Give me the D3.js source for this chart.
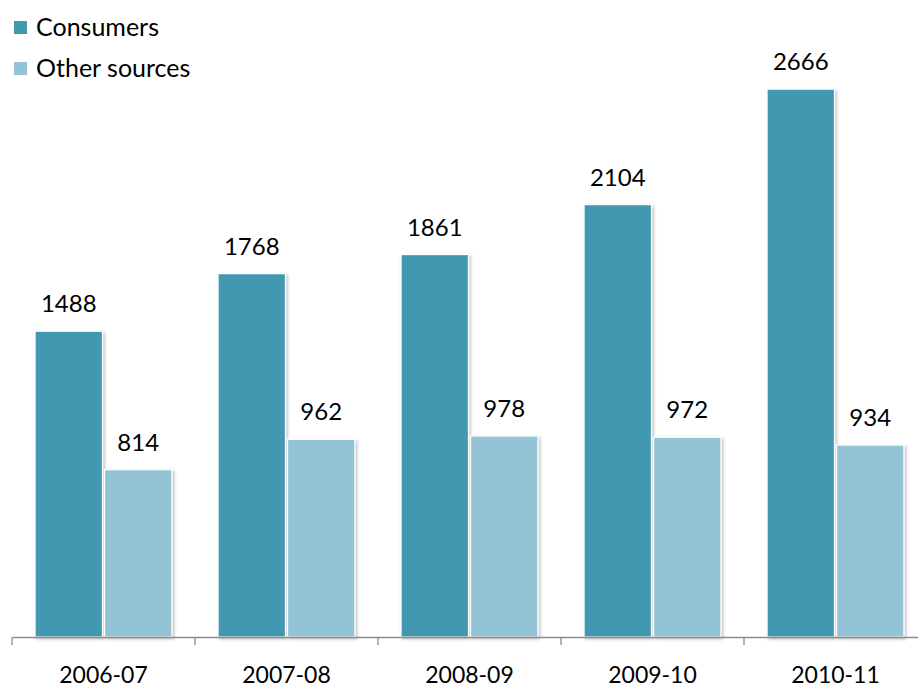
<!DOCTYPE html>
<html>
<head>
<meta charset="utf-8">
<script src="https://cdn.jsdelivr.net/npm/d3@7"></script>
<style>
  html, body { margin: 0; padding: 0; background: #fff; }
  svg { display: block; }
  text { font-family: Lato, "Open Sans", sans-serif; fill: #000; }
</style>
</head>
<body>
<svg id="chart" width="918" height="689"></svg>
<script>
// Complaints received, by source and year
const years = ["2006-07", "2007-08", "2008-09", "2009-10", "2010-11"];
const consumers = [1488, 1768, 1861, 2104, 2666];
const otherSources = [814, 962, 978, 972, 934];
const seriesNames = ["Consumers", "Other sources"];
const seriesColors = ["#4398b0", "#93c4d6"];

const svg = d3.select("#chart");
const plot = { left: 12, right: 927, top: 20, bottom: 637 };

const defs = svg.append("defs");
const shadow = defs.append("filter").attr("id", "barShadow")
  .attr("x", "-10%").attr("y", "-5%").attr("width", "130%").attr("height", "115%");
shadow.append("feDropShadow").attr("dx", 1.5).attr("dy", 1.5)
  .attr("stdDeviation", 1.6).attr("flood-color", "#000").attr("flood-opacity", 0.28);

const x0 = d3.scaleBand().domain(years).range([plot.left, plot.right]).paddingInner(0).paddingOuter(0);
const bw = x0.bandwidth();
const x1 = d3.scaleBand().domain(seriesNames).range([bw * 0.126, bw * 0.874]).paddingInner(0.03).paddingOuter(0);
const y = d3.scaleLinear().domain([0, 3000]).range([plot.bottom, plot.bottom - 616.5]);

const rows = years.map((yr, i) => ({ year: yr, values: [consumers[i], otherSources[i]] }));

const groups = svg.append("g").selectAll("g").data(rows).join("g")
  .attr("transform", d => `translate(${x0(d.year)},0)`);

groups.selectAll("rect").data(d => d.values.map((v, k) => ({ name: seriesNames[k], v, k })))
  .join("rect")
  .attr("x", d => x1(d.name))
  .attr("y", d => y(d.v))
  .attr("width", x1.bandwidth())
  .attr("height", d => y(0) - y(d.v))
  .attr("fill", d => seriesColors[d.k])
  .attr("stroke", "#fff")
  .attr("stroke-width", 1.2)
  .attr("filter", "url(#barShadow)");

groups.selectAll("text.val").data(d => d.values.map((v, k) => ({ name: seriesNames[k], v, k })))
  .join("text").attr("class", "val")
  .attr("x", d => x1(d.name) + x1.bandwidth() / 2)
  .attr("y", d => y(d.v) - 19)
  .attr("text-anchor", "middle")
  .attr("font-size", 24)
  .text(d => d.v);

// Category axis
const axis = d3.axisBottom(x0).tickSize(0).tickFormat(d => d);
const axisG = svg.append("g").attr("transform", `translate(0,${plot.bottom})`).call(axis);
axisG.select(".domain").attr("stroke", "#8c8c8c").attr("stroke-width", 1.3);
axisG.selectAll(".tick text").attr("font-size", 23).attr("dy", 0).attr("y", 46)
  .attr("font-family", "Lato, 'Open Sans', sans-serif").attr("fill", "#000");
// boundary tick marks between categories
const bounds = years.map(yr => x0(yr)).concat([x0(years[years.length - 1]) + bw]);
axisG.selectAll("line.bound").data(bounds).join("line").attr("class", "bound")
  .attr("x1", d => d).attr("x2", d => d).attr("y1", 0).attr("y2", 8)
  .attr("stroke", "#8c8c8c").attr("stroke-width", 1.3);

// Legend
const legend = svg.append("g").selectAll("g").data(seriesNames).join("g")
  .attr("transform", (d, i) => `translate(14,${21 + i * 41})`);
legend.append("rect").attr("width", 13).attr("height", 13).attr("fill", (d, i) => seriesColors[i]);
legend.append("text").attr("x", 22).attr("y", 15).attr("font-size", 25).text(d => d);
</script>
</body>
</html>
